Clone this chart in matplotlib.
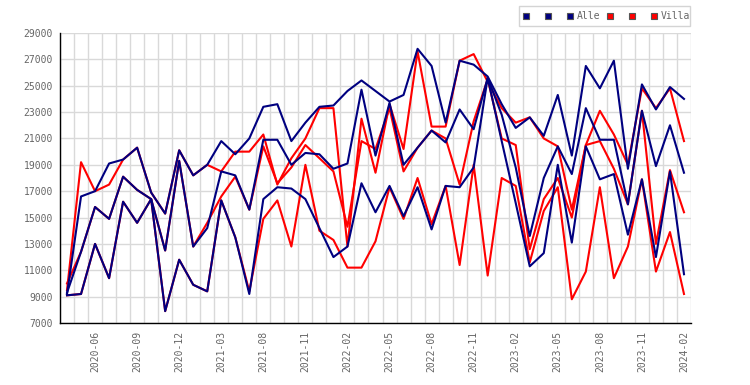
import numpy as np
import pandas as pd
import matplotlib
matplotlib.use("Agg")
import matplotlib.pyplot as plt
from matplotlib.ticker import FixedLocator
from matplotlib.patches import Rectangle
from matplotlib.lines import Line2D

# months on the x axis (two months of 2021 have no data)
months = [p.strftime("%Y-%m") for p in pd.period_range("2020-04", "2024-02", freq="M")]
months = [m for m in months if m not in ("2021-04", "2021-06")]

alle_1 = [9200, 16600, 17000, 19100, 19400, 20300, 16900, 15300, 20100, 18200,
          19000, 20800, 19800, 21000, 23400, 23600, 20800, 22200, 23400, 23500,
          24600, 25400, 24600, 23800, 24300, 27800, 26500, 22200, 26900, 26600,
          25700, 23600, 21800, 22600, 21200, 24300, 19700, 26500, 24800, 26900,
          18700, 25100, 23200, 24900, 24000]
alle_2 = [9300, 12400, 15800, 14900, 18100, 17100, 16400, 12500, 19300, 12800,
          14200, 18500, 18200, 15600, 20900, 20900, 19000, 19900, 19800, 18700,
          19100, 24700, 19700, 23700, 19000, 20300, 21600, 20700, 23200, 21700,
          25600, 22800, 18800, 13600, 18000, 20400, 18300, 23300, 20900, 20900,
          16000, 23100, 18900, 22000, 18400]
alle_3 = [9100, 9200, 13000, 10400, 16200, 14600, 16400, 7900, 11800, 9900,
          9400, 16300, 13500, 9200, 16400, 17300, 17200, 16400, 14200, 12000,
          12800, 17600, 15400, 17400, 15100, 17300, 14100, 17400, 17300, 18800,
          25600, 20800, 16100, 11300, 12300, 19000, 13100, 20400, 17900, 18300,
          13700, 17900, 12000, 18500, 10700]

villa_1 = [9500, 19200, 17000, 17500, 19400, 20300, 16900, 15300, 20100, 18200,
           19000, 18500, 20000, 20000, 21300, 17500, 19500, 21000, 23300, 23300,
           12800, 22500, 18400, 23600, 20200, 27600, 21900, 21900, 26900, 27400,
           25300, 23300, 22200, 22600, 21000, 20400, 15600, 20500, 23100, 21300,
           19000, 24800, 23300, 24800, 20800]
villa_2 = [10000, 12400, 15800, 14900, 18100, 17100, 16400, 12500, 19300, 12800,
           14600, 16600, 18100, 15600, 20400, 17600, 18800, 20500, 19500, 18500,
           14300, 20800, 20200, 23300, 18500, 20300, 21600, 21000, 17500, 22300,
           25500, 21000, 20500, 12600, 16400, 18000, 15000, 20500, 20800, 18700,
           16000, 23100, 13000, 18600, 15400]
villa_3 = [9100, 9200, 13000, 10400, 16200, 14600, 16400, 7900, 11800, 9900,
           9400, 16300, 13500, 9400, 14900, 16300, 12800, 19000, 14000, 13300,
           11200, 11200, 13200, 17300, 14900, 18000, 14500, 17400, 11400, 19000,
           10600, 18000, 17400, 11600, 15500, 17300, 8800, 10900, 17300, 10400,
           12800, 17900, 10900, 13900, 9200]

NAVY = "#000080"
RED = "#ff0000"
MONO = "DejaVu Sans Mono"
GREY = "#666666"

W, H = 750, 385
fig = plt.figure(figsize=(W / 100, H / 100), dpi=100)
ax = fig.add_axes([60 / W, 1 - 323 / H, 631 / W, 290 / H])

x = np.arange(len(months))
for s in (villa_1, villa_2, villa_3):
    ax.plot(x, s, color=RED, lw=1.5, zorder=3)
for s in (alle_1, alle_2, alle_3):
    ax.plot(x, s, color=NAVY, lw=1.5, zorder=4)

ax.set_xlim(-0.5, len(months) - 0.5)
ax.set_ylim(7000, 29000)
ax.set_yticks(range(7000, 29001, 2000))
ax.set_xticks(x[2::3])
ax.set_xticklabels(months[2::3], rotation=90)
ax.xaxis.set_minor_locator(FixedLocator(np.arange(-0.5, len(months), 1)))
ax.grid(axis="x", which="minor", color="#d9d9d9", lw=1, zorder=0)
ax.grid(axis="y", which="major", color="#d9d9d9", lw=1, zorder=0)
ax.tick_params(which="both", length=0)
ax.tick_params(axis="y", pad=5)
ax.tick_params(axis="x", pad=6)
for lab in ax.get_xticklabels() + ax.get_yticklabels():
    lab.set_fontfamily(MONO)
    lab.set_fontsize(7)
    lab.set_color(GREY)
for side in ("top", "right"):
    ax.spines[side].set_visible(False)
for side in ("left", "bottom"):
    ax.spines[side].set_color("black")
    ax.spines[side].set_linewidth(1)

# legend box drawn by hand: three squares per series, label after the third
fig.add_artist(Rectangle((519 / W, 1 - 26.3 / H), 171 / W, 20.3 / H,
                         transform=fig.transFigure, facecolor="white",
                         edgecolor="#d4d4d4", lw=1))
ly = 1 - 16.3 / H
for cx, col in ((526.3, NAVY), (548.3, NAVY), (570.3, NAVY),
                (610.3, RED), (632.3, RED), (654.3, RED)):
    fig.add_artist(Line2D([cx / W], [ly], transform=fig.transFigure, marker="s",
                          markersize=4.3, markerfacecolor=col,
                          markeredgecolor="#555555", markeredgewidth=0.8,
                          linestyle="none"))
fig.text(576.7 / W, ly, "Alle", fontfamily=MONO, fontsize=7, color=GREY,
         ha="left", va="center")
fig.text(660.7 / W, ly, "Villa", fontfamily=MONO, fontsize=7, color=GREY,
         ha="left", va="center")

fig.savefig("out.png", dpi=100)
